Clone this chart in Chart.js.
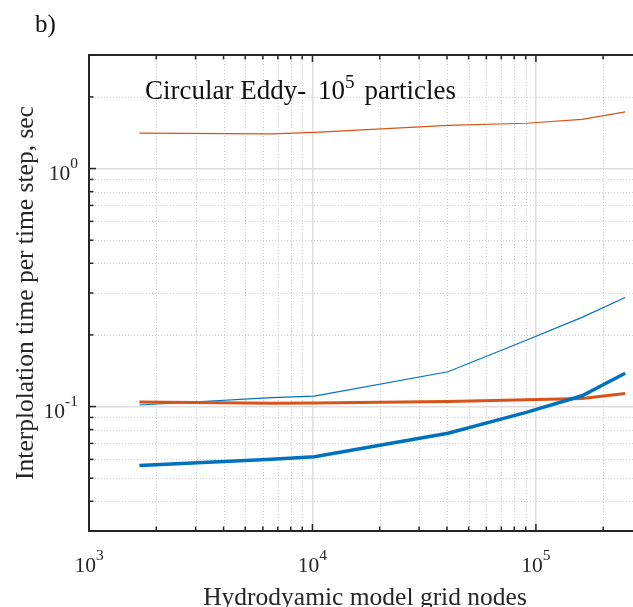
<!DOCTYPE html>
<html>
<head>
<meta charset="utf-8">
<script src="https://cdn.jsdelivr.net/npm/chart.js@4"></script>
<style>
  html, body { margin: 0; padding: 0; background: #fff; }
  canvas { display: block; }
</style>
</head>
<body>
<canvas id="eddy" width="633" height="607"></canvas>
<script>
// grid nodes (x) and interpolation times (y)
const nodes = [1681, 6561, 10201, 40401, 90601, 160801, 251001];
const thinOrange = [1.41, 1.40, 1.42, 1.52, 1.55, 1.61, 1.73];
const thinBlue = [0.1015, 0.109, 0.1106, 0.140, 0.19, 0.237, 0.287];
const thickOrange = [0.1044, 0.1033, 0.1035, 0.1049, 0.1068, 0.1082, 0.1135];
const thickBlue = [0.0565, 0.0601, 0.0616, 0.0773, 0.0945, 0.111, 0.138];

const xTickValues = [1e3, 1e4, 1e5];
const xTickExp = ['3', '4', '5'];
const yTickValues = [0.1, 1];
const yTickExp = ['-1', '0'];

const SERIF = '"Liberation Serif", "Times New Roman", serif';
const INK = '#262626';
const BLUE = 'rgb(0,114,189)';
const ORANGE = 'rgb(217,83,25)';

const pts = ys => nodes.map((n, i) => ({ x: n, y: ys[i] }));

function isMajor(v) {
  const l = Math.log10(v);
  return Math.abs(l - Math.round(l)) < 1e-9;
}

// 1..9 x 10^n between min and max, used for grid and tick marks
function logSteps(min, max) {
  const out = [];
  for (let e = Math.floor(Math.log10(min)); e <= Math.ceil(Math.log10(max)); e++) {
    for (let m = 1; m <= 9; m++) {
      const v = +(m * Math.pow(10, e)).toPrecision(6);
      if (v >= min * 0.999 && v <= max * 1.001) out.push(v);
    }
  }
  return out;
}

// base text with a raised exponent, like MATLAB's 10^n
function supText(ctx, base, exp, x, y, align, size, supSize, rise) {
  ctx.font = size + 'px ' + SERIF;
  const wb = ctx.measureText(base).width;
  ctx.font = supSize + 'px ' + SERIF;
  const we = ctx.measureText(exp).width;
  let x0 = x;
  if (align === 'center') x0 = x - (wb + we) / 2;
  if (align === 'right') x0 = x - wb - we;
  ctx.textAlign = 'left';
  ctx.textBaseline = 'alphabetic';
  ctx.font = size + 'px ' + SERIF;
  ctx.fillText(base, x0, y);
  ctx.font = supSize + 'px ' + SERIF;
  ctx.fillText(exp, x0 + wb, y - rise);
  return x0 + wb + we;
}

const axesDecor = {
  id: 'axesDecor',
  beforeDatasetsDraw(chart) {
    const { ctx, chartArea: a, scales: { x, y } } = chart;
    ctx.save();
    ctx.strokeStyle = 'rgb(208,208,208)';
    ctx.lineWidth = 1;
    ctx.setLineDash([1, 2]);
    x.ticks.forEach(t => {
      if (isMajor(t.value)) return;
      const px = Math.round(x.getPixelForValue(t.value)) + 0.5;
      ctx.beginPath(); ctx.moveTo(px, a.top); ctx.lineTo(px, a.bottom); ctx.stroke();
    });
    y.ticks.forEach(t => {
      if (isMajor(t.value)) return;
      const py = Math.round(y.getPixelForValue(t.value)) + 0.5;
      ctx.beginPath(); ctx.moveTo(a.left, py); ctx.lineTo(a.right, py); ctx.stroke();
    });
    ctx.restore();
  },
  afterDraw(chart) {
    const { ctx, chartArea: a, scales: { x, y } } = chart;
    ctx.save();
    ctx.strokeStyle = INK;
    ctx.lineWidth = 2;
    ctx.beginPath();
    ctx.moveTo(a.right, a.top); ctx.lineTo(a.left, a.top);
    ctx.lineTo(a.left, a.bottom); ctx.lineTo(a.right, a.bottom);
    ctx.stroke();

    // inward tick marks
    ctx.lineWidth = 1.5;
    x.ticks.forEach(t => {
      const px = x.getPixelForValue(t.value);
      const len = isMajor(t.value) ? 7 : 4.5;
      ctx.beginPath();
      ctx.moveTo(px, a.bottom); ctx.lineTo(px, a.bottom - len);
      ctx.moveTo(px, a.top); ctx.lineTo(px, a.top + len);
      ctx.stroke();
    });
    y.ticks.forEach(t => {
      const py = y.getPixelForValue(t.value);
      const len = isMajor(t.value) ? 7 : 4.5;
      ctx.beginPath();
      ctx.moveTo(a.left, py); ctx.lineTo(a.left + len, py);
      ctx.stroke();
    });

    ctx.fillStyle = INK;
    xTickValues.forEach((v, i) => {
      supText(ctx, '10', xTickExp[i], x.getPixelForValue(v), a.bottom + 41, 'center', 21.5, 15.5, 12);
    });
    yTickValues.forEach((v, i) => {
      supText(ctx, '10', yTickExp[i], a.left - 11, y.getPixelForValue(v) + 11, 'right', 21.5, 15.5, 12);
    });

    // axis titles
    ctx.font = '25.5px ' + SERIF;
    ctx.textAlign = 'center';
    ctx.textBaseline = 'alphabetic';
    ctx.fillText('Hydrodyamic model grid nodes', 365, 605);
    ctx.save();
    ctx.translate(33, 293);
    ctx.rotate(-Math.PI / 2);
    ctx.font = '25.5px ' + SERIF;
    ctx.fillText('Interplolation time per time step, sec', 0, 0);
    ctx.restore();

    // in-plot title and panel letter
    ctx.fillStyle = '#111';
    ctx.textAlign = 'left';
    ctx.font = '27px ' + SERIF;
    ctx.fillText('Circular Eddy-', 145, 99);
    const cx = supText(ctx, '10', '5', 318, 99, 'left', 27, 19, 11.5);
    ctx.font = '27px ' + SERIF;
    ctx.fillText('particles', cx + 10, 99);
    ctx.font = '25px ' + SERIF;
    ctx.fillText('b)', 35, 32);
    ctx.restore();
  }
};

const lineSet = (label, ys, color, width) => ({
  label, data: pts(ys), borderColor: color, backgroundColor: color,
  borderWidth: width, pointRadius: 0, tension: 0, fill: false
});

new Chart(document.getElementById('eddy'), {
  type: 'line',
  data: {
    datasets: [
      lineSet('thick blue', thickBlue, BLUE, 3.5),
      lineSet('thick orange', thickOrange, ORANGE, 3),
      lineSet('thin blue', thinBlue, BLUE, 1.2),
      lineSet('thin orange', thinOrange, ORANGE, 1.2)
    ]
  },
  options: {
    responsive: false,
    animation: false,
    events: [],
    layout: { autoPadding: false, padding: { left: 89, top: 55, right: 0, bottom: 76 } },
    plugins: { legend: { display: false }, tooltip: { enabled: false } },
    scales: {
      x: {
        type: 'logarithmic', min: 1000, max: 272000,
        afterBuildTicks: s => { s.ticks = logSteps(1000, 272000).map(v => ({ value: v })); },
        ticks: { display: false },
        border: { display: false },
        grid: {
          drawTicks: false, lineWidth: 1.5,
          color: c => (c.tick && isMajor(c.tick.value)) ? 'rgb(222,222,222)' : 'rgba(0,0,0,0)'
        }
      },
      y: {
        type: 'logarithmic', min: 0.03, max: 3,
        afterBuildTicks: s => { s.ticks = logSteps(0.03, 3).map(v => ({ value: v })); },
        ticks: { display: false },
        border: { display: false },
        grid: {
          drawTicks: false, lineWidth: 1.5,
          color: c => (c.tick && isMajor(c.tick.value)) ? 'rgb(222,222,222)' : 'rgba(0,0,0,0)'
        }
      }
    }
  },
  plugins: [axesDecor]
});
</script>
</body>
</html>
